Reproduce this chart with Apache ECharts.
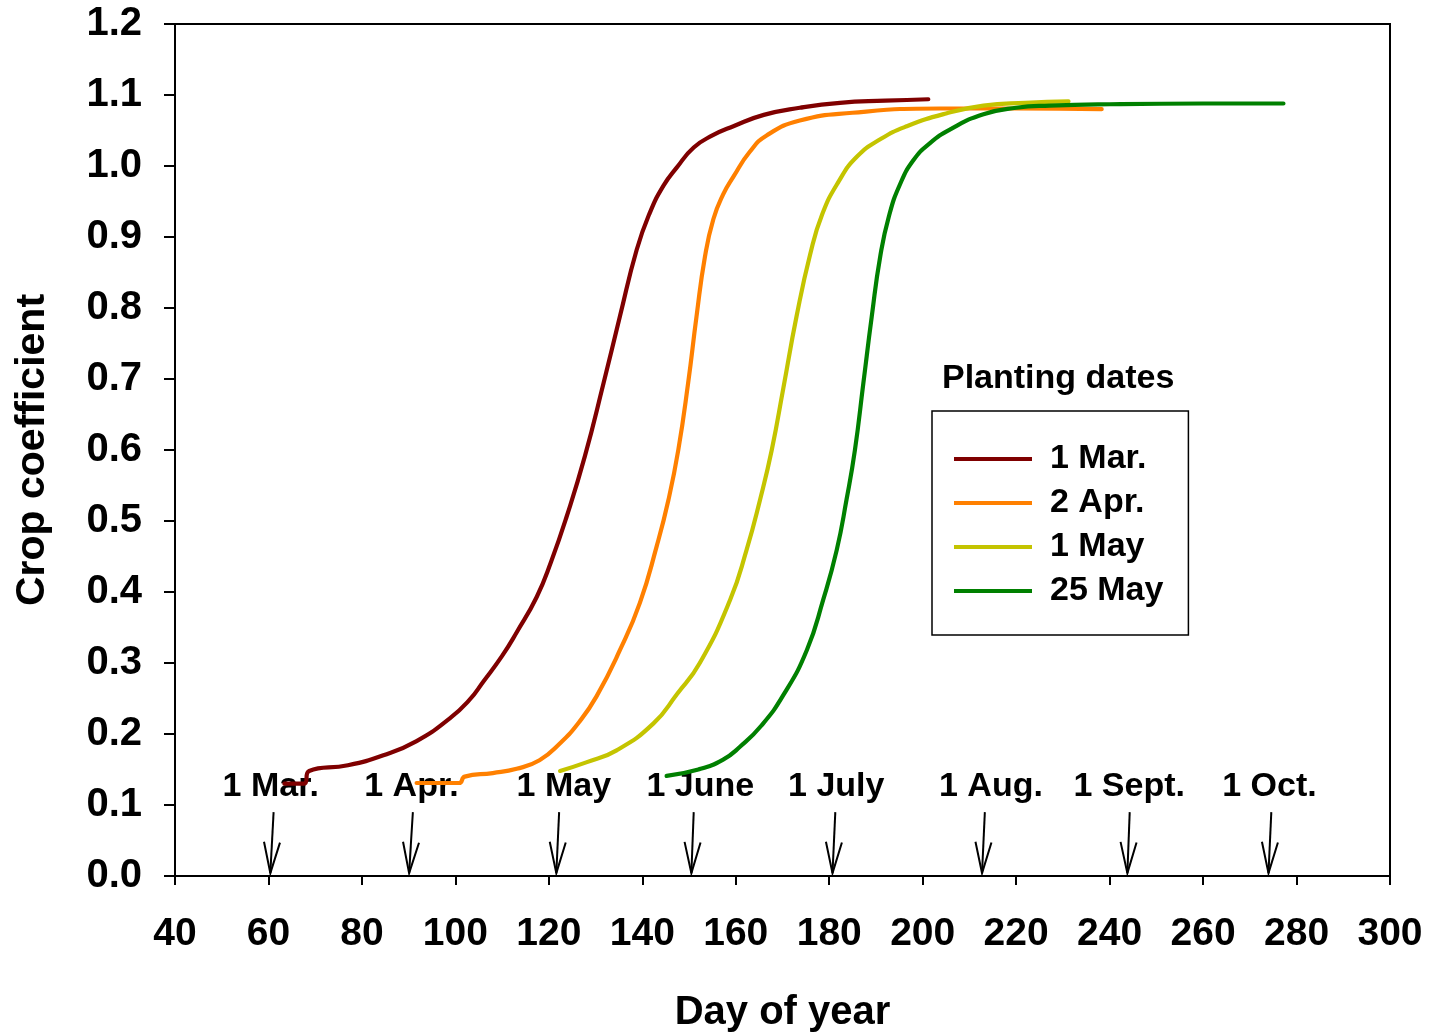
<!DOCTYPE html>
<html>
<head>
<meta charset="utf-8">
<script src="https://cdn.jsdelivr.net/npm/echarts@6/dist/echarts.min.js"></script>
<style>
  html, body { margin: 0; padding: 0; background: #fff; }
  #chart { width: 1434px; height: 1034px; }
</style>
</head>
<body>
<div id="chart"></div>
<script>
// ---- Data ----
const seriesNames = ['1 Mar.', '2 Apr.', '1 May', '25 May'];

const mar1 = [[63.4,0.130],[67.6,0.130],[68.7,0.148],[77,0.156],[84.6,0.170],[91.7,0.190],[98.8,0.222],[103,0.248],[106,0.274],[110,0.310],[113.1,0.343],[117.4,0.393],[120.5,0.443],[123.8,0.506],[127.7,0.591],[131.7,0.694],[135.2,0.788],[138.8,0.882],[141.6,0.934],[144.5,0.972],[147.4,0.998],[151,1.026],[155,1.043],[159.5,1.056],[166,1.072],[173.7,1.082],[182.3,1.089],[192,1.092],[201.2,1.094]];

const apr2 = [[91.7,0.131],[100.8,0.131],[102,0.140],[108,0.145],[113.1,0.151],[118,0.163],[122.4,0.187],[126.5,0.217],[130.2,0.253],[135.2,0.318],[139.5,0.385],[143.1,0.465],[145.6,0.530],[147.7,0.600],[149.8,0.694],[151.6,0.788],[153.4,0.872],[155.2,0.925],[157.3,0.960],[159.5,0.985],[163,1.020],[166.6,1.043],[173.7,1.064],[185,1.075],[203.7,1.081],[220,1.081],[238.3,1.080]];

const may1 = [[122.4,0.148],[128,0.160],[134.5,0.177],[142.4,0.215],[147.4,0.256],[152.3,0.300],[158.8,0.389],[162.3,0.459],[165.2,0.530],[167.7,0.600],[170.2,0.688],[173.0,0.788],[175.9,0.875],[178.5,0.932],[182,0.978],[185.9,1.013],[191,1.038],[196.6,1.056],[205,1.074],[213,1.085],[222,1.089],[231.2,1.091]];

const may25 = [[145.2,0.141],[152,0.150],[157.3,0.164],[160.9,0.182],[165.5,0.212],[170.2,0.255],[175.2,0.318],[178.7,0.389],[181.6,0.459],[183.7,0.530],[185.5,0.600],[187.3,0.694],[189.1,0.788],[190.9,0.872],[192.8,0.930],[195.2,0.975],[198,1.008],[201.5,1.032],[206,1.052],[213,1.073],[220,1.082],[227.2,1.085],[240,1.087],[260,1.088],[277.2,1.088]];

const seriesColors = ['#7f0000', '#ff8000', '#c4c400', '#008000'];

// Month-start annotations (day of year)
const monthLabels  = ['1 Mar.', '1 Apr.', '1 May', '1 June', '1 July', '1 Aug.', '1 Sept.', '1 Oct.'];
const arrowTipDays = [60.4, 90.1, 121.6, 150.5, 180.7, 212.7, 243.8, 274.0];
const arrowTopDays = [61.1, 90.9, 122.2, 151.0, 181.3, 213.3, 244.3, 274.6];
const labelDays    = [60.5, 90.6, 123.2, 152.4, 181.5, 214.6, 244.2, 274.2];
const arrowTipY = 0.004, arrowTopY = 0.090, labelY = 0.126;

const yTickLabels = ['0.0','0.1','0.2','0.3','0.4','0.5','0.6','0.7','0.8','0.9','1.0','1.1','1.2'];

// ---- Chart ----
const FONT = 'Liberation Sans, Arial, sans-serif';
const chart = echarts.init(document.getElementById('chart'), null, { renderer: 'canvas' });

const annotData = monthLabels.map((lab, i) => [arrowTipDays[i], arrowTipY, arrowTopDays[i], arrowTopY, labelDays[i], labelY, lab]);

const lineSeries = [mar1, apr2, may1, may25].map((d, i) => ({
  name: seriesNames[i],
  type: 'line',
  data: d,
  smooth: 0.5,
  symbol: 'none',
  z: 3,
  lineStyle: { color: seriesColors[i], width: 4.2, cap: 'round', join: 'round' },
  itemStyle: { color: seriesColors[i] }
}));

const option = {
  backgroundColor: '#fff',
  animation: false,
  grid: { left: 175, right: 44, top: 24, bottom: 158, outerBoundsMode: 'none', containLabel: false,
    show: true, borderColor: '#000', borderWidth: 2, backgroundColor: 'transparent' },
  xAxis: {
    type: 'value', min: 40, max: 300, interval: 20,
    name: 'Day of year', nameLocation: 'middle', nameGap: 117,
    nameTextStyle: { fontFamily: FONT, fontWeight: 'bold', fontSize: 40, color: '#000' },
    axisLine: { show: true, lineStyle: { color: '#000', width: 2 } },
    axisTick: { show: true, inside: false, length: 9, lineStyle: { color: '#000', width: 2 } },
    axisLabel: { margin: 39, fontFamily: FONT, fontWeight: 'bold', fontSize: 39, color: '#000' },
    splitLine: { show: false }
  },
  yAxis: {
    type: 'value', min: 0, max: 1.2, interval: 0.1,
    name: 'Crop coefficient', nameLocation: 'middle', nameGap: 122, nameRotate: 90,
    nameTextStyle: { fontFamily: FONT, fontWeight: 'bold', fontSize: 41, color: '#000' },
    axisLine: { show: true, lineStyle: { color: '#000', width: 2 } },
    axisTick: { show: true, inside: false, length: 11, lineStyle: { color: '#000', width: 2 } },
    axisLabel: { margin: 33, fontFamily: FONT, fontWeight: 'bold', fontSize: 40, color: '#000',
      padding: [8, 0, 0, 0],
      formatter: v => yTickLabels[Math.round(v * 10)] },
    splitLine: { show: false }
  },
  legend: {
    data: seriesNames,
    orient: 'vertical', left: 932, top: 411,
    padding: [31, 25, 27, 22],
    itemGap: 10, itemWidth: 78, itemHeight: 4.2,
    icon: 'rect',
    borderColor: '#000', borderWidth: 1.5,
    textStyle: { fontFamily: FONT, fontWeight: 'bold', fontSize: 34, color: '#000', lineHeight: 34, padding: [0, 0, 0, 13] }
  },
  graphic: [{
    type: 'text', left: 942, top: 362,
    style: { text: 'Planting dates', font: 'bold 34px ' + FONT, fill: '#000' }
  }],
  series: [{
    type: 'custom',
    z: 2,
    silent: true,
    data: annotData,
    encode: { x: [0, 2, 4], y: [1, 3, 5] },
    renderItem: function (params, api) {
      const tip = api.coord([api.value(0), api.value(1)]);
      const top = api.coord([api.value(2), api.value(3)]);
      const lab = api.coord([api.value(4), api.value(5)]);
      const dx = top[0] - tip[0], dy = top[1] - tip[1];
      const len = Math.sqrt(dx * dx + dy * dy);
      const ux = dx / len, uy = dy / len, nx = -uy, ny = ux;
      const hl = 31, hw = 8;
      return {
        type: 'group',
        children: [
          { type: 'line', shape: { x1: top[0], y1: top[1], x2: tip[0], y2: tip[1] }, style: { stroke: '#000', lineWidth: 2 } },
          { type: 'polyline', shape: { points: [[tip[0] + ux * hl + nx * hw, tip[1] + uy * hl + ny * hw], tip, [tip[0] + ux * hl - nx * hw, tip[1] + uy * hl - ny * hw]] }, style: { stroke: '#000', lineWidth: 2, fill: null } },
          { type: 'text', x: lab[0], y: lab[1], style: { text: api.value(6), font: 'bold 34px ' + FONT, fill: '#000', align: 'center', verticalAlign: 'middle' } }
        ]
      };
    }
  }].concat(lineSeries)
};
chart.setOption(option);
</script>
</body>
</html>
